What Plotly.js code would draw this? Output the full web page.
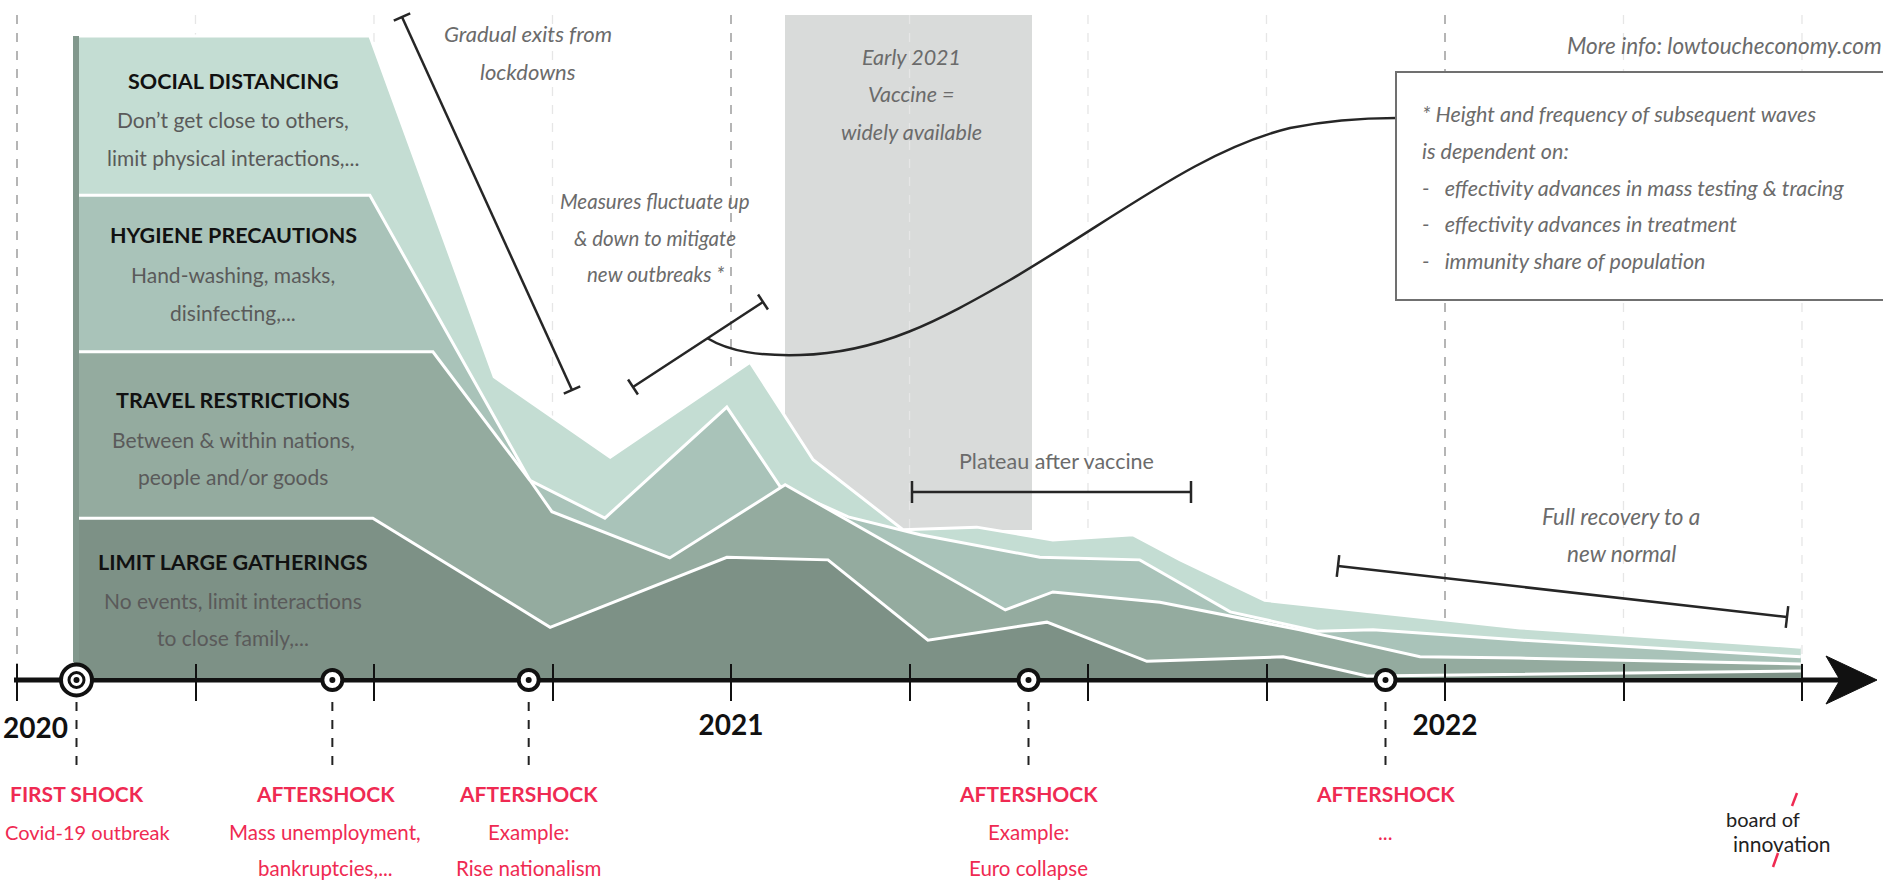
<!DOCTYPE html>
<html>
<head>
<meta charset="utf-8">
<script src="https://cdn.plot.ly/plotly-3.0.1.min.js"></script>
<style>
  html, body { margin: 0; padding: 0; background: #ffffff; }
  #chart { width: 1883px; height: 886px; }
</style>
</head>
<body>
<div id="chart"></div>
<script>
// ---------------- DATA (x = months since Jan 2020, y = intensity of measures 0-100) ----------------
const socialMonths    = [0.96, 5.93, 8.02, 9.97, 12.32, 13.38, 14.89, 16.13, 17.41, 18.76, 19.55, 20.97, 25.26, 29.98];
const socialLevel     = [100, 100, 46.9, 34.4, 49.2, 34.0, 23.1, 23.5, 21.5, 22.3, 18.4, 12.1, 7.8, 4.8];

const hygieneMonths   = [0.96, 5.93, 8.62, 9.88, 11.93, 12.82, 13.97, 15.18, 17.19, 18.87, 20.39, 21.85, 22.79, 25.26, 29.98];
const hygieneLevel    = [75.2, 75.2, 30.8, 24.9, 42.2, 29.9, 25.1, 22.3, 18.8, 18.4, 10.3, 7.3, 7.5, 5.9, 3.3];

const travelMonths    = [0.96, 6.99, 8.62, 8.99, 10.97, 12.91, 16.61, 17.41, 19.21, 21.56, 23.58, 25.26, 29.98];
const travelLevel     = [50.8, 50.8, 30.8, 25.9, 18.7, 30.1, 10.6, 13.4, 11.8, 7.5, 3.3, 3.1, 2.2];

const gatherMonths    = [0.96, 5.98, 8.96, 11.93, 13.63, 15.31, 17.31, 18.99, 21.28, 22.69, 29.98];
const gatherLevel     = [24.9, 24.9, 7.9, 18.8, 18.4, 5.9, 8.7, 2.6, 3.3, 0.3, 1.1];

const tickMonths = [0, 3, 6, 9, 12, 15, 18, 21, 24, 27, 30];
const tickLabels = ['2020', '', '', '', '2021', '', '', '', '2022', '', ''];

const firstShockMonth  = [1.0];
const aftershockMonths = [5.3, 8.6, 17.0, 23.0];
const shockTitles = ['FIRST SHOCK', 'AFTERSHOCK', 'AFTERSHOCK', 'AFTERSHOCK', 'AFTERSHOCK'];
const shockLine1  = ['Covid-19 outbreak', 'Mass unemployment,', 'Example:', 'Example:', '...'];
const shockLine2  = ['', 'bankruptcies,...', 'Rise nationalism', 'Euro collapse', ''];

const layerNames = ['SOCIAL DISTANCING', 'HYGIENE PRECAUTIONS', 'TRAVEL RESTRICTIONS', 'LIMIT LARGE GATHERINGS'];
const layerDesc1 = ['Don\u2019t get close to others,', 'Hand-washing, masks,', 'Between & within nations,', 'No events, limit interactions'];
const layerDesc2 = ['limit physical interactions,...', 'disinfecting,...', 'people and/or goods', 'to close family,...'];

const boxLines = ['* Height and frequency of subsequent waves', 'is dependent on:',
  '-   effectivity advances in mass testing & tracing', '-   effectivity advances in treatment',
  '-   immunity share of population'];

// ---------------- GEOMETRY ----------------
const W = 1883, H = 886;
const X0PX = 17, PXPM = 59.5;      // pixel of month 0, pixels per month
const BASE = 678, PXPV = 6.42;     // pixel of level 0, pixels per level unit
const xr = [-X0PX / PXPM, (W - X0PX) / PXPM];
const yr = [-(H - BASE) / PXPV, BASE / PXPV];
const axisLevel = -(680 - BASE) / PXPV;
const fx = p => p / W;
const fy = p => 1 - p / H;
const mpx = m => X0PX + m * PXPM;

const INK = '#262626';
const GREY = '#6b6b6b';
const RED = '#ef2a52';
const FONT = 'Lato, "Open Sans", sans-serif';

function seg(a, b, c, d, color, width, dash) {
  return {type: 'line', xref: 'paper', yref: 'paper', x0: fx(a), y0: fy(b), x1: fx(c), y1: fy(d),
          line: {color: color, width: width, dash: dash || 'solid'}, layer: 'above'};
}
function bracket(x1, y1, x2, y2, cap) {
  const dx = x2 - x1, dy = y2 - y1, L = Math.hypot(dx, dy);
  const nx = -dy / L * cap, ny = dx / L * cap;
  return [seg(x1, y1, x2, y2, INK, 2.5),
          seg(x1 - nx, y1 - ny, x1 + nx, y1 + ny, INK, 2.5),
          seg(x2 - nx, y2 - ny, x2 + nx, y2 + ny, INK, 2.5)];
}
function pathOf(cmds) {
  return cmds.map(c => c[0] + ' ' + c.slice(1).reduce((s, v, i) => s + (i % 2 === 0 ? fx(v) : ',' + fy(v) + ' '), '')).join(' ');
}

// ---------------- TRACES ----------------
function area(x, y, fill) {
  return {type: 'scatter', mode: 'lines', x: x, y: y, fill: 'tozeroy', fillcolor: fill,
          line: {color: '#ffffff', width: 3}, hoverinfo: 'skip', showlegend: false};
}
const allShocks = firstShockMonth.concat(aftershockMonths);
const traces = [
  area(socialMonths, socialLevel, '#c4ddd3'),
  area(hygieneMonths, hygieneLevel, '#a9c3b9'),
  area(travelMonths, travelLevel, '#94ab9f'),
  area(gatherMonths, gatherLevel, '#7d9186'),
  {type: 'scatter', mode: 'markers', x: firstShockMonth, y: firstShockMonth.map(() => axisLevel),
   marker: {size: 31, color: '#ffffff', line: {color: '#111', width: 4}}, hoverinfo: 'skip', showlegend: false},
  {type: 'scatter', mode: 'markers', x: firstShockMonth, y: firstShockMonth.map(() => axisLevel),
   marker: {size: 15, color: '#ffffff', line: {color: '#111', width: 3}}, hoverinfo: 'skip', showlegend: false},
  {type: 'scatter', mode: 'markers', x: aftershockMonths, y: aftershockMonths.map(() => axisLevel),
   marker: {size: 20, color: '#ffffff', line: {color: '#111', width: 4}}, hoverinfo: 'skip', showlegend: false},
  {type: 'scatter', mode: 'markers', x: allShocks, y: allShocks.map(() => axisLevel),
   marker: {size: 6, color: '#111'}, hoverinfo: 'skip', showlegend: false}
];

// ---------------- SHAPES ----------------
const shapes = [];
shapes.push({type: 'rect', xref: 'paper', yref: 'paper', x0: fx(785), x1: fx(1032), y0: fy(530), y1: fy(15),
             fillcolor: '#d9dbda', line: {width: 0}, layer: 'below'});
tickMonths.forEach(m => {
  const isYear = m % 12 === 0;
  shapes.push({type: 'line', xref: 'paper', yref: 'paper', x0: fx(mpx(m)), x1: fx(mpx(m)), y0: fy(15), y1: fy(678),
               line: {color: isYear ? '#a3a3a3' : '#e6e6e6', width: isYear ? 1.6 : 1.3, dash: 'dash'}, layer: 'below'});
});
shapes.push({type: 'line', xref: 'paper', yref: 'paper', x0: fx(14), x1: fx(1845), y0: fy(680), y1: fy(680),
             line: {color: '#111', width: 5}, layer: 'below'});
shapes.push({type: 'path', xref: 'paper', yref: 'paper',
             path: pathOf([['M', 1826, 656], ['L', 1877, 680], ['L', 1826, 704], ['L', 1840, 680]]) + ' Z',
             fillcolor: '#111', line: {color: '#111', width: 1}, layer: 'above'});
shapes.push({type: 'rect', xref: 'paper', yref: 'paper', x0: fx(73), x1: fx(79), y0: fy(662), y1: fy(36),
             fillcolor: '#82988d', line: {width: 0}, layer: 'above'});
allShocks.forEach(m => {
  shapes.push({type: 'line', xref: 'x', yref: 'paper', x0: m, x1: m, y0: fy(702), y1: fy(770),
               line: {color: '#222', width: 2, dash: 'dash'}, layer: 'above'});
});
shapes.push(...bracket(402, 17, 572, 390, 9));
shapes.push(...bracket(633, 387, 763, 302, 9));
shapes.push(...bracket(912, 492, 1191, 492, 11));
shapes.push(...bracket(1338, 566, 1787, 617, 11));
shapes.push({type: 'path', xref: 'paper', yref: 'paper',
  path: pathOf([['M', 707, 338], ['C', 730, 352, 760, 356, 800, 355], ['C', 880, 353, 940, 320, 1010, 280],
                ['C', 1120, 215, 1200, 150, 1290, 128], ['C', 1330, 120, 1370, 118, 1396, 118]]),
  line: {color: INK, width: 2.5}, layer: 'above'});
shapes.push({type: 'rect', xref: 'paper', yref: 'paper', x0: fx(1396), x1: fx(1895), y0: fy(300), y1: fy(72),
             fillcolor: '#ffffff', line: {color: '#707070', width: 2}, layer: 'above'});
shapes.push(seg(1797, 793, 1792, 806, RED, 2.5));
shapes.push(seg(1778, 853, 1773, 867, RED, 2.5));

// ---------------- ANNOTATIONS ----------------
const ann = [];
function txt(x, y, text, size, color, opts) {
  const a = Object.assign({xref: 'paper', yref: 'paper', x: fx(x), y: fy(y), text: text, showarrow: false,
    xanchor: 'center', yanchor: 'middle', font: {family: FONT, size: size, color: color}}, opts || {});
  ann.push(a);
}
const layerY = [[81, 120, 157], [235, 275, 312], [400, 439, 476], [562, 600, 637]];
layerNames.forEach((n, i) => {
  txt(233, layerY[i][0], '<b>' + n + '</b>', 21.5, '#111');
  txt(233, layerY[i][1], layerDesc1[i], 21, '#5a5a5a');
  txt(233, layerY[i][2], layerDesc2[i], 21, '#5a5a5a');
});
txt(528, 34, '<i>Gradual exits from</i>', 22, GREY);
txt(528, 71, '<i>lockdowns</i>', 22, GREY);
txt(655, 201, '<i>Measures fluctuate up</i>', 20.5, GREY);
txt(655, 238, '<i>& down to mitigate</i>', 20.5, GREY);
txt(655, 274, '<i>new outbreaks *</i>', 20.5, GREY);
txt(911, 57, '<i>Early 2021</i>', 21.5, GREY);
txt(911, 94, '<i>Vaccine =</i>', 21.5, GREY);
txt(911, 132, '<i>widely available</i>', 21.5, GREY);
txt(1565, 45, '<i>More info: lowtoucheconomy.com</i>', 22.5, GREY, {xanchor: 'left'});
const boxY = [114, 151, 188, 224, 261];
boxLines.forEach((t, i) => txt(1420, boxY[i], '<i>' + t + '</i>', 21.5, GREY, {xanchor: 'left'}));
txt(1056, 461, 'Plateau after vaccine', 21.5, GREY);
txt(1621, 516, '<i>Full recovery to a</i>', 22.5, GREY);
txt(1621, 553, '<i>new normal</i>', 22.5, GREY);
// year label at the very left edge (tick labels for 2021 / 2022 come from the axis)
txt(1, 727, '<b>' + tickLabels[0] + '</b>', 28, '#111', {xanchor: 'left'});
// shock labels
const shockShift = [0, -7, 0, 0, 0];
allShocks.forEach((m, i) => {
  ann.push({xref: 'x', yref: 'paper', x: m, y: fy(793), text: '<b>' + shockTitles[i] + '</b>', showarrow: false,
            xshift: shockShift[i], xanchor: 'center', yanchor: 'middle', font: {family: FONT, size: 21, color: RED}});
  if (i === 0) {
    // first description sits at the left page edge: anchor it to the edge so it stays whole
    txt(3, 832, shockLine1[i], 20, RED, {xanchor: 'left'});
  } else {
    ann.push({xref: 'x', yref: 'paper', x: m, y: fy(832), text: shockLine1[i], showarrow: false, xshift: shockShift[i],
              xanchor: 'center', yanchor: 'middle', font: {family: FONT, size: 20.5, color: RED}});
  }
  if (shockLine2[i]) ann.push({xref: 'x', yref: 'paper', x: m, y: fy(868), text: shockLine2[i], showarrow: false,
            xshift: shockShift[i], xanchor: 'center', yanchor: 'middle', font: {family: FONT, size: 20.5, color: RED}});
});
// logo
txt(1763, 819, 'board of', 20, '#222');
txt(1782, 843, 'innovation', 21, '#222');

const axisTickText = tickLabels.map((t, i) => i === 0 ? '' : t);
const layout = {
  width: W, height: H,
  margin: {l: 0, r: 0, t: 0, b: 0, pad: 0},
  paper_bgcolor: '#ffffff', plot_bgcolor: 'rgba(0,0,0,0)',
  showlegend: false, hovermode: false,
  xaxis: {range: xr, anchor: 'free', position: 1 - 663 / H, ticks: 'outside', ticklen: 37, tickwidth: 2,
          tickcolor: '#111', tickvals: tickMonths, ticktext: axisTickText, showline: false, showgrid: false,
          zeroline: false, fixedrange: true,
          tickfont: {family: FONT, size: 28, color: '#111', weight: 'bold'}},
  yaxis: {range: yr, visible: false, showgrid: false, zeroline: false, fixedrange: true},
  shapes: shapes,
  annotations: ann
};

Plotly.newPlot('chart', traces, layout, {displayModeBar: false, staticPlot: true});
</script>
</body>
</html>
